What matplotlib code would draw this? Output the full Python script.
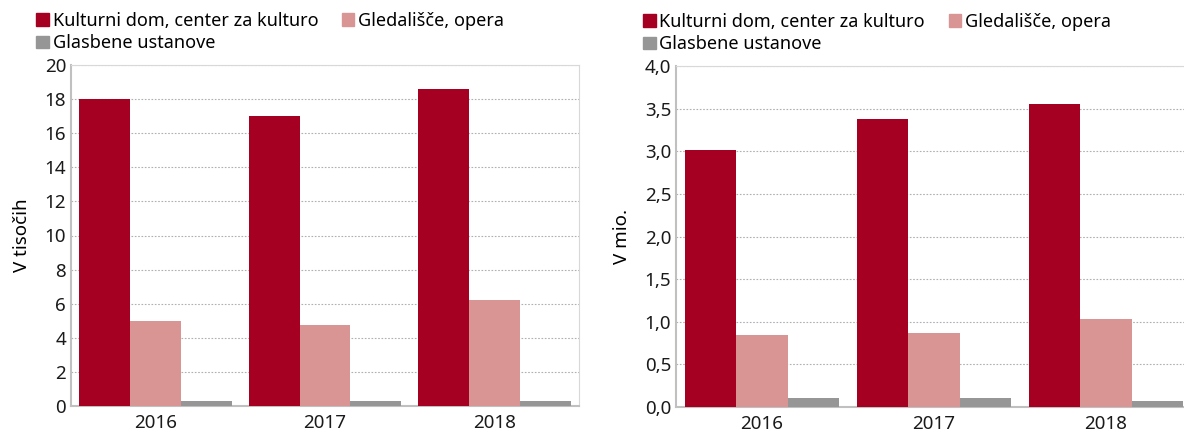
import numpy as np
import matplotlib.pyplot as plt
from matplotlib.patches import Patch
from matplotlib.ticker import FuncFormatter

plt.rcParams['font.family'] = ['Noto Sans', 'DejaVu Sans']

years = ['2016', '2017', '2018']
series = ['Kulturni dom, center za kulturo', 'Gledališče, opera', 'Glasbene ustanove']
colors = ['#A50021', '#D99594', '#969696']

# left panel: v tisočih
left_vals = [
    [18.0, 17.0, 18.6],
    [5.0, 4.75, 6.2],
    [0.28, 0.27, 0.3],
]
# right panel: v mio.
right_vals = [
    [3.01, 3.38, 3.56],
    [0.85, 0.87, 1.03],
    [0.11, 0.10, 0.07],
]

fig = plt.figure(figsize=(11.84, 4.32), dpi=100)
W, H = 1184, 432
ax1 = fig.add_axes([71 / W, 26 / H, 508 / W, 341 / H])
ax2 = fig.add_axes([676 / W, 25 / H, 516 / W, 341 / H])


def draw(ax, vals, ymax, step, ylabel, fmt, lx):
    x = np.arange(len(years))
    w = 0.3
    for i, v in enumerate(vals):
        ax.bar(x + (i - 1) * w, v, w, color=colors[i], zorder=3)
    ax.set_xlim(-0.5, len(years) - 0.5)
    ax.set_ylim(0, ymax)
    ax.set_yticks(np.arange(0, ymax + step / 2, step))
    ax.yaxis.set_major_formatter(FuncFormatter(fmt))
    ax.set_xticks(x)
    ax.set_xticklabels(years)
    ax.tick_params(length=0, labelsize=13.5, colors='#1a1a1a')
    ax.tick_params(axis='x', pad=6)
    ax.grid(axis='y', color='#b0b0b0', linestyle=(0, (1.5, 1.5)), linewidth=0.8, zorder=0)
    for s in ['top', 'right']:
        ax.spines[s].set_color('#d8d8d8')
        ax.spines[s].set_linewidth(0.8)
    for s in ['left', 'bottom']:
        ax.spines[s].set_color('#c0c0c0')
        ax.spines[s].set_linewidth(1.5)
    ax.set_ylabel(ylabel, fontsize=13.5, labelpad=10)
    handles = [Patch(color=c, label=l) for c, l in zip(colors, series)]
    # row-wise order for a 2-column legend
    handles = [handles[0], handles[2], handles[1]]
    ax.legend(handles=handles, ncol=2, loc='lower left', bbox_to_anchor=(lx, 1.0),
              frameon=False, fontsize=13, handlelength=0.7, handleheight=0.7,
              handletextpad=0.2, columnspacing=1.3, labelspacing=0.25, borderpad=0.2)


draw(ax1, left_vals, 20, 2, 'V tisočih', lambda v, p: f'{v:.0f}', -0.093)
draw(ax2, right_vals, 4.0, 0.5, 'V mio.', lambda v, p: f'{v:.1f}'.replace('.', ','), -0.088)

fig.savefig('out.png', dpi=100)
